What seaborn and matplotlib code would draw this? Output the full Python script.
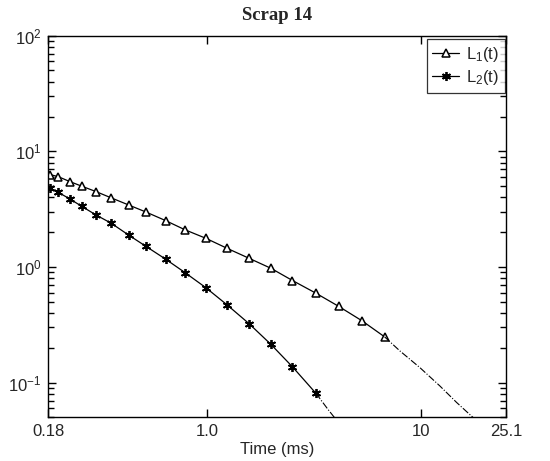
import numpy as np
import pandas as pd
import matplotlib
matplotlib.use("Agg")
import matplotlib.pyplot as plt
import matplotlib.ticker as mticker
import seaborn as sns

# Gate times (ms) and responses
time_l1 = [0.183, 0.200, 0.227, 0.258, 0.301, 0.355, 0.428, 0.516, 0.638, 0.786,
           0.986, 1.24, 1.57, 1.99, 2.51, 3.23, 4.13, 5.31, 6.78]
l1 = [6.30, 6.05, 5.48, 5.00, 4.49, 3.96, 3.44, 2.99, 2.52, 2.10,
      1.77, 1.45, 1.19, 0.974, 0.764, 0.594, 0.457, 0.343, 0.249]

time_l2 = [0.183, 0.200, 0.227, 0.258, 0.301, 0.355, 0.428, 0.516, 0.638, 0.786,
           0.986, 1.24, 1.57, 1.99, 2.51, 3.23]
l2 = [4.83, 4.43, 3.88, 3.35, 2.82, 2.39, 1.89, 1.51, 1.17, 0.896,
      0.662, 0.470, 0.324, 0.214, 0.137, 0.081]

# Extrapolated tails (dash-dot)
tail_t1 = [6.78, 8.0, 9.92, 12.3, 14.75, 16.6, 17.9]
tail_l1 = [0.249, 0.188, 0.135, 0.0938, 0.0674, 0.0552, 0.0487]
tail_t2 = [3.23, 3.70, 4.13]
tail_l2 = [0.081, 0.058, 0.045]

x_ticks = [0.18, 1.0, 10, 25.1]
x_labels = ["0.18", "1.0", "10", "25.1"]

sns.set_style("ticks")
plt.rcParams["font.family"] = ["Liberation Sans", "DejaVu Sans"]
plt.rcParams["mathtext.default"] = "regular"
plt.rcParams["mathtext.fontset"] = "custom"
plt.rcParams["mathtext.rm"] = "Liberation Sans"
plt.rcParams["ytick.minor.visible"] = True

fig = plt.figure(figsize=(5.5, 4.61), dpi=100)
ax = fig.add_axes([0.0878, 0.0944, 0.832, 0.8282])

d1 = pd.DataFrame({"t": time_l1, "v": l1})
d2 = pd.DataFrame({"t": time_l2, "v": l2})
e1 = pd.DataFrame({"t": tail_t1, "v": tail_l1})
e2 = pd.DataFrame({"t": tail_t2, "v": tail_l2})

sns.lineplot(data=d1, x="t", y="v", ax=ax, color="black", lw=0.9,
             marker="^", markersize=5.5, markerfacecolor="white",
             markeredgecolor="black", markeredgewidth=1.1,
             label="L$_1$(t)", sort=False)
sns.lineplot(data=d2, x="t", y="v", ax=ax, color="black", lw=0.9,
             marker=(6, 2, 0), markersize=6.5, markeredgecolor="black",
             markeredgewidth=1.3, label="L$_2$(t)", sort=False)
sns.lineplot(data=e1, x="t", y="v", ax=ax, color="black", lw=0.8,
             linestyle="-.", legend=False, sort=False)
sns.lineplot(data=e2, x="t", y="v", ax=ax, color="black", lw=0.8,
             linestyle="-.", legend=False, sort=False)

ax.set_xscale("log")
ax.set_yscale("log")
ax.set_xlim(0.18, 25.1)
ax.set_ylim(0.05, 100)

ax.xaxis.set_major_locator(mticker.FixedLocator(x_ticks))
ax.xaxis.set_major_formatter(mticker.FixedFormatter(x_labels))
ax.xaxis.set_minor_locator(mticker.NullLocator())

decades = [0.01, 0.1, 1, 10]
minor_y = [d * k for d in decades for k in range(2, 10) if 0.05 <= d * k <= 100]
ax.yaxis.set_major_locator(mticker.FixedLocator([0.1, 1, 10, 100]))
ax.yaxis.set_major_formatter(mticker.LogFormatterSciNotation())
ax.yaxis.set_minor_locator(mticker.FixedLocator(minor_y))
ax.yaxis.set_minor_formatter(mticker.NullFormatter())

ax.tick_params(which="both", direction="in", top=True, right=True,
               left=True, bottom=True, color="black", labelsize=12)
ax.tick_params(which="major", length=6, width=1.0, pad=5)
ax.tick_params(which="minor", length=4, width=1.0)
for s in ax.spines.values():
    s.set_visible(True)
    s.set_color("black")
    s.set_linewidth(1.0)

ax.set_xlabel("Time (ms)", fontsize=12, labelpad=2)
ax.set_ylabel("")
ax.set_title("Scrap 14", fontsize=13.5, fontweight="bold",
             family=["Liberation Serif", "DejaVu Serif"], pad=11)

leg = ax.legend(loc="upper right", bbox_to_anchor=(0.997, 0.991),
                frameon=True, fancybox=False, fontsize=12,
                handlelength=1.6, handletextpad=0.4, borderpad=0.35,
                labelspacing=0.25, borderaxespad=0.0)
leg.get_frame().set_edgecolor("black")
leg.get_frame().set_linewidth(0.9)

fig.savefig("out.png", dpi=100)
